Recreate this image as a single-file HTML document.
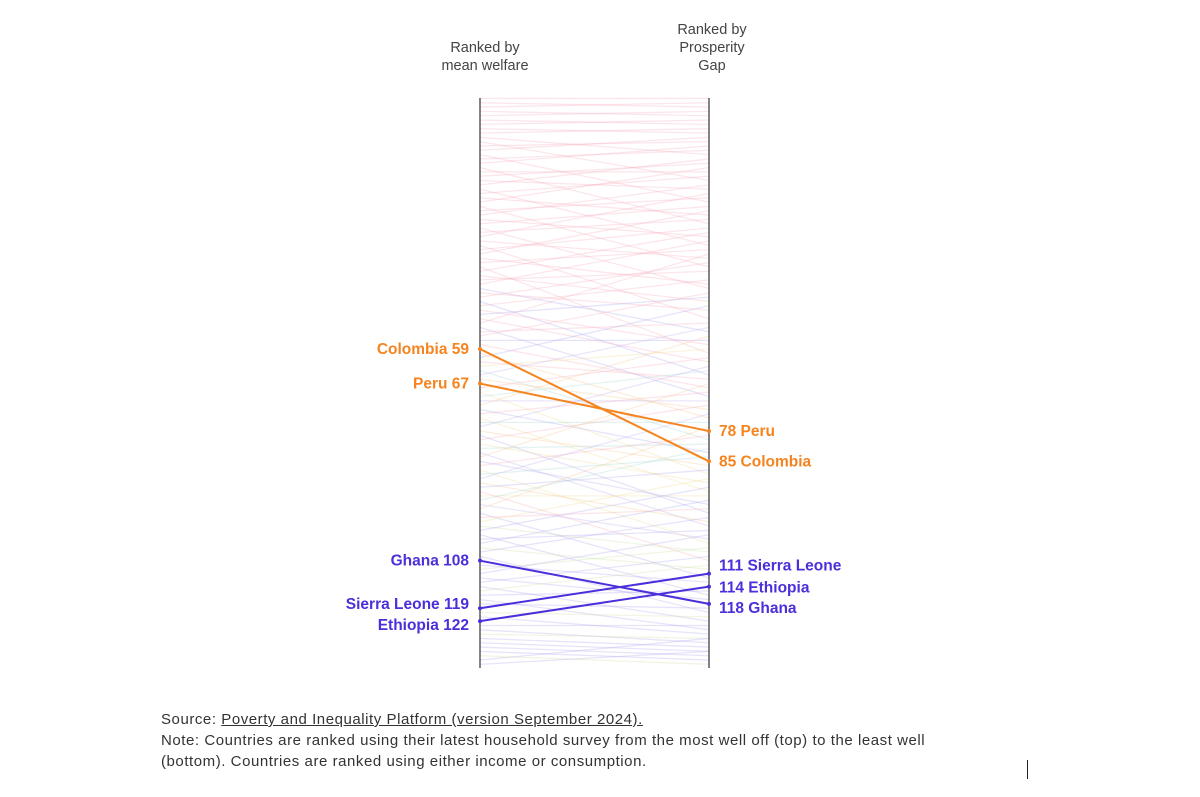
<!DOCTYPE html>
<html><head><meta charset="utf-8"><style>
body{margin:0;background:#fff;width:1200px;height:797px;overflow:hidden;font-family:"Liberation Sans",sans-serif}
#note{position:absolute;left:161px;top:709px;font-size:15px;letter-spacing:0.55px;color:#333;line-height:21px;width:820px}
#bar{position:absolute;left:1027px;top:760px;width:1px;height:19px;background:#222}
</style></head><body>
<svg id="chart" width="1200" height="700" style="position:absolute;left:0;top:0"></svg>
<div id="note">Source: <u>Poverty and Inequality Platform (version September 2024).</u><br>Note: Countries are ranked using their latest household survey from the most well off (top) to the least well (bottom). Countries are ranked using either income or consumption.</div>
<div id="bar"></div>
<script>
const bgLeft=[1,2,3,4,5,6,7,8,9,10,11,12,13,14,15,16,17,18,19,20,21,22,23,24,25,26,27,28,29,30,31,32,33,34,35,36,37,38,39,40,41,42,43,44,45,46,47,48,49,50,51,52,53,54,55,56,57,58,60,61,62,63,64,65,66,68,69,70,71,72,73,74,75,76,77,78,79,80,81,82,83,84,85,86,87,88,89,90,91,92,93,94,95,96,97,98,99,100,101,102,103,104,105,106,107,109,110,111,112,113,114,115,116,117,118,120,121,123,124,125,126,127,128,129,130,131,132];
const bgRight=[1,3,2,5,4,7,6,9,8,14,20,11,10,25,13,12,30,18,16,22,15,35,19,28,17,40,24,21,33,26,45,29,23,38,52,31,27,44,36,60,32,48,41,34,55,50,39,65,43,58,47,62,37,70,53,46,57,68,75,49,66,59,80,54,73,61,88,64,71,56,83,69,92,76,63,86,97,72,90,81,100,67,95,79,104,84,74,99,87,108,93,82,103,77,112,96,89,106,91,116,101,94,110,98,120,113,105,102,117,107,122,109,115,124,119,121,125,123,127,126,128,129,130,131,132,126,129];
const hlNames=["Colombia","Peru","Ghana","Sierra Leone","Ethiopia"];
const hlLeft=[59,67,108,119,122];
const hlRight=[85,78,118,111,114];
const hlColor=["#f5841f","#f5841f","#4b2fdb","#4b2fdb","#4b2fdb"];
const lblLeftOff=[0,0,0,-4,4];
const lblRightOff=[0,0,4,-8,1];
const xL=480,xR=709;
const y=r=>349+(r-59)*4.32;
const ns="http://www.w3.org/2000/svg",svg=document.getElementById('chart');
function mk(t,a){const e=document.createElementNS(ns,t);for(const k in a)e.setAttribute(k,a[k]);svg.appendChild(e);return e;}
function col(r){if(r<45)return "#f7a8b8";if(r<60)return r%3?"#f7a8b8":"#a8a0f0";if(r<100)return ["#f6c48a","#a8a0f0","#f7a8b8","#f0d890","#9fd6d0","#b8a8f0"][r%6];return r%5?"#a8a0f0":"#c8e0a0";}
let t=mk('text',{x:485,y:52,'text-anchor':'middle','font-size':14.5,fill:'#444'});t.textContent='Ranked by';

t=mk('text',{x:485,y:70,'text-anchor':'middle','font-size':14.5,fill:'#444'});t.textContent='mean welfare';

['Ranked by','Prosperity','Gap'].forEach((s,i)=>{const e=mk('text',{x:712,y:34+i*18,'text-anchor':'middle','font-size':14.5,fill:'#444'});e.textContent=s;
});
bgLeft.forEach((l,i)=>{if(bgRight[i]===undefined)return;const e=mk('line',{x1:xL,y1:y(l),x2:xR,y2:y(bgRight[i]),stroke:col(l),'stroke-width':1.3,opacity:0.28});
});
[xL,xR].forEach(x=>{const e=mk('line',{x1:x,y1:98,x2:x,y2:668,stroke:'#333','stroke-width':1.2});
});
hlNames.forEach((n,i)=>{const c=hlColor[i];
let e=mk('line',{x1:xL,y1:y(hlLeft[i]),x2:xR,y2:y(hlRight[i]),stroke:c,'stroke-width':2});

e=mk('circle',{cx:xL,cy:y(hlLeft[i]),r:2,fill:c});
e=mk('circle',{cx:xR,cy:y(hlRight[i]),r:2,fill:c});
e=mk('text',{x:469,y:y(hlLeft[i])+lblLeftOff[i]+5,'text-anchor':'end','font-size':15.5,'font-weight':'bold',fill:c});e.textContent=n+' '+hlLeft[i];

e=mk('text',{x:719,y:y(hlRight[i])+lblRightOff[i]+5,'font-size':15.5,'font-weight':'bold',fill:c});e.textContent=hlRight[i]+' '+n;

});
</script>
</body></html>
